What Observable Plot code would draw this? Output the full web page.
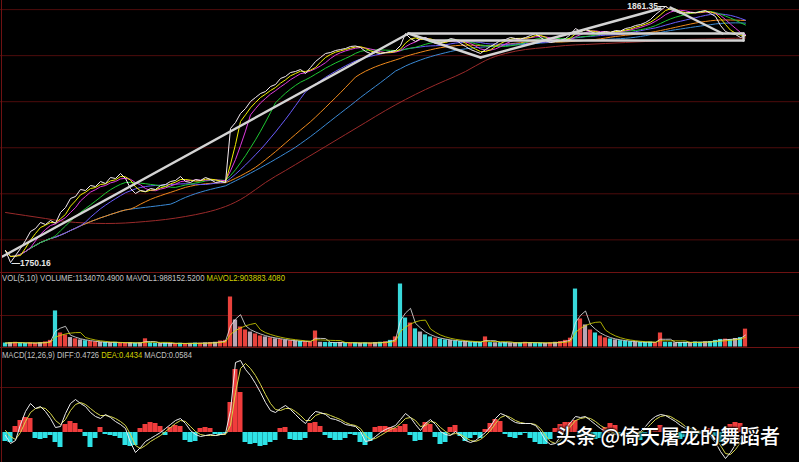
<!DOCTYPE html>
<html><head><meta charset="utf-8">
<script src="https://cdn.jsdelivr.net/npm/d3@7"></script>
<script src="https://cdn.jsdelivr.net/npm/@observablehq/plot@0.6"></script>
<style>
html,body{margin:0;padding:0;background:#000;}
#wrap{position:relative;width:799px;height:462px;background:#000;overflow:hidden;}
#wrap svg{position:absolute;left:0;}
.legend{position:absolute;left:2px;white-space:nowrap;font-family:"Liberation Sans",Arial,sans-serif;font-size:9px;line-height:10px;transform-origin:0 50%;}
.wm{position:absolute;left:556px;top:424px;font-family:"Noto Sans CJK SC",sans-serif;font-size:20px;line-height:24px;color:#fff;font-weight:500;text-shadow:0 0 2px #000,1px 1px 2px #000,-1px -1px 2px #000;white-space:nowrap;}
.bd{position:absolute;background:#6e1212;}
</style></head>
<body><div id="wrap"></div>
<script>
// ---------- DATA ----------
const price = [1755.37,1750.16,1753.20,1756.24,1759.72,1763.62,1764.93,1767.53,1766.66,1768.40,
1767.20,1771.88,1774.05,1777.96,1778.83,1781.87,1781.43,1783.60,1783.17,1785.34,
1784.47,1787.08,1786.64,1788.82,1786.64,1782.30,1780.13,1781.43,1781.00,1782.30,
1781.87,1783.60,1784.04,1785.34,1785.78,1787.51,1785.34,1784.91,1786.21,1785.78,
1787.08,1786.21,1784.91,1785.34,1784.91,1808.36,1810.97,1814.88,1817.05,1820.09,
1821.83,1823.56,1824.43,1826.60,1827.47,1830.08,1830.95,1832.68,1833.12,1833.99,
1832.25,1834.86,1837.46,1839.20,1840.94,1841.37,1842.24,1842.67,1843.11,1843.98,
1844.20,1843.54,1841.81,1840.94,1841.37,1840.94,1841.37,1841.81,1842.24,1844.41,
1849.62,1847.45,1846.15,1847.45,1847.89,1846.58,1845.28,1845.71,1846.15,1847.45,
1847.02,1845.28,1843.98,1842.67,1841.81,1840.94,1842.67,1843.98,1845.28,1846.58,
1847.02,1847.89,1847.45,1847.20,1847.89,1848.76,1849.62,1847.89,1846.58,1845.71,
1846.15,1846.58,1847.45,1849.19,1851.80,1850.49,1851.36,1850.49,1849.62,1850.06,
1850.49,1850.06,1850.93,1850.70,1851.80,1852.23,1853.10,1853.53,1854.40,1855.70,
1857.88,1859.61,1861.35,1860.05,1859.18,1858.31,1858.50,1858.75,1858.60,1859.18,
1859.61,1858.31,1857.01,1853.10,1850.49,1849.62,1849.19,1847.89,1848.76];

const priceGrid = [1760, 1780, 1800, 1820, 1840, 1860];

// long moving average, one value every 4 samples
const longMA = [1771.88,1770.57,1769.27,1767.97,1767.32,1767.10,1767.32,1767.97,1768.84,1770.14,
1771.88,1774.48,1778.83,1784.91,1790.12,1795.33,1800.54,1805.76,1810.97,1816.18,
1820.96,1825.30,1829.21,1833.12,1837.90,1840.94,1842.67,1843.54,1844.41,1844.85,
1845.28,1845.71,1846.15,1846.58,1847.02,1847.23,1847.45,1847.67];
const longMAStep = 4;

// hand-drawn trend lines (sample index, price)
const trendX1 = [-0.6, 80.6, 95, 113.6, 133, 80.6, 84.8, 147.6];
const trendY1 = [1752.77, 1849.62, 1839.20, 1850.06, 1860.92, 1849.62, 1846.58, 1849.62];
const trendX2 = [80.6, 95, 113.6, 131, 143.4, 147.6, 147.6, 147.6];
const trendY2 = [1849.62, 1839.20, 1850.06, 1860.48, 1849.62, 1849.62, 1846.58, 1846.58];

// volume in thousands
const volume = [250,280,300,260,230,270,240,280,320,420,
2290,
890,760,600,520,450,400,360,330,300,
290,270,300,260,250,280,240,260,520,270,
240,220,250,230,210,240,220,230,250,240,
260,280,300,380,420,
3175,
1715,1270,1080,950,830,700,640,580,520,
470,430,400,380,350,330,320,1015,300,290,
280,270,290,260,250,270,240,260,250,280,300,330,420,640,
4000,
1840,1520,1150,950,770,640,560,500,450,410,
380,350,330,310,300,290,640,280,270,260,
280,250,270,260,300,280,260,250,240,270,300,340,420,560,
3680,
1780,1400,1080,890,700,580,510,450,400,370,
340,320,300,290,310,280,890,300,290,270,
280,300,290,320,300,330,350,420,480,500,470,540,600,1134];
const volDir = "cgrccrrgrr" + "c" + "rrgrgcrrg" + "cgcrrgcgrc" + "cgcgrcrgcr" + "grgrr" + "r" +
  "grrgrrgrg" + "rgrgcrrrgc" + "ccgcrcgcrgcrcr" + "c" + "crcgccrccg" + "ccgcccrcgc" +
  "cggcrgccgrgrrr" + "c" + "rgrcrrcgcc" + "cgcccrrccg" + "ccgccgcccrcgcr";
const volGrid = [2000];

const diff = [-0.3,-1.1,-0.8,0.8,2.1,2.9,2.4,2.6,2.1,1.4,
0.5,0.6,1.9,2.9,3.3,2.9,2.6,2.0,1.6,1.4,
1.8,1.5,1.1,0.8,0.4,-1.0,-2.0,-1.5,-0.9,-0.6,
-0.3,0.0,0.4,0.8,1.2,1.4,0.9,0.2,-0.2,-0.4,
-0.3,-0.2,-0.3,-0.2,-0.1,2.2,7.0,7.2,6.3,5.7,
4.9,4.0,3.0,2.2,2.0,2.4,2.7,2.3,1.8,1.3,
0.9,1.6,2.1,2.0,1.8,1.4,1.3,1.1,0.8,0.7,
0.6,0.1,-0.9,-0.8,-0.4,0.0,0.3,0.5,0.7,1.3,
1.9,1.5,0.8,0.2,0.9,1.3,0.8,0.1,-0.2,-0.3,
0.1,-0.3,-0.8,-1.0,-0.8,-0.4,0.0,0.6,1.4,1.9,
1.7,1.3,1.0,0.9,0.9,0.9,0.7,0.1,-0.8,-1.2,
-1.1,-0.4,0.4,1.0,1.6,1.5,1.6,1.2,0.8,0.4,
0.1,-0.1,-0.2,-0.3,-0.3,-0.2,-0.1,0.1,0.6,1.2,
1.6,1.8,1.7,1.4,1.1,0.7,0.4,0.2,0.1,0.0,
-0.1,-0.4,-1.0,-1.9,-2.6,-2.0,-1.2,-0.5,0.2];
const dea = [0.2,-0.4,-0.7,0.0,1.1,2.0,2.4,2.5,2.4,1.9,
1.2,0.8,1.3,2.2,2.8,3.0,2.8,2.4,2.0,1.7,
1.7,1.6,1.4,1.1,0.7,-0.2,-1.3,-1.6,-1.3,-0.9,
-0.6,-0.3,0.1,0.5,0.9,1.2,1.1,0.6,0.1,-0.2,
-0.3,-0.3,-0.3,-0.2,-0.2,0.7,4.0,6.4,6.9,6.4,
5.7,4.8,3.8,2.9,2.3,2.2,2.4,2.4,2.1,1.7,
1.2,1.2,1.7,1.9,1.9,1.7,1.5,1.3,1.0,0.8,
0.7,0.4,-0.3,-0.7,-0.6,-0.3,0.0,0.3,0.5,0.9,
1.4,1.5,1.2,0.6,0.7,1.1,1.0,0.5,0.1,-0.2,
-0.1,-0.2,-0.5,-0.8,-0.9,-0.7,-0.3,0.2,0.9,1.5,
1.7,1.5,1.2,1.0,0.9,0.9,0.8,0.4,-0.3,-0.9,
-1.1,-0.8,-0.1,0.6,1.2,1.4,1.5,1.4,1.1,0.7,
0.4,0.1,-0.1,-0.2,-0.3,-0.3,-0.2,0.0,0.3,0.8,
1.3,1.6,1.7,1.6,1.3,1.0,0.6,0.4,0.2,0.1,
0.0,-0.2,-0.6,-1.3,-2.1,-2.2,-1.7,-1.0,-0.3];
const macdHist = [-0.9,-1.0,0.6,1.2,1.5,1.4,-0.6,-0.7,-0.6,-0.3,
-1.0,-1.5,0.8,1.1,0.9,0.3,-0.4,-1.5,-0.6,0.5,
-0.2,-0.3,-0.4,-0.6,-1.3,-1.4,-1.3,0.4,0.8,1.0,
0.9,0.6,-0.3,0.5,0.7,0.6,-0.8,-1.0,-0.9,0.4,
0.5,0.4,-0.2,-0.3,-0.1,3.0,6.3,4.0,-1.0,-1.2,
-1.1,-1.4,-1.3,-1.0,-0.8,0.4,0.5,-0.7,-0.8,-0.8,
-0.6,0.9,1.0,0.6,-0.3,-0.6,-0.8,-0.8,-0.6,-0.2,
-0.3,-1.0,-1.3,-0.9,0.5,0.6,0.6,0.5,0.4,0.6,
0.8,-0.3,-0.9,-0.8,1.0,0.8,-0.5,-1.2,-1.0,0.5,
0.7,-0.4,-0.9,-0.6,-0.3,-0.6,0.3,0.9,1.3,1.1,
-0.2,-0.5,-0.6,-0.3,-0.1,-0.6,-1.0,-1.2,-1.2,-0.7,
0.4,0.8,1.0,1.0,1.2,-0.4,-0.6,-0.7,-0.7,-0.6,
0.5,0.9,0.7,-0.3,-0.3,-0.2,-0.6,-0.8,-0.5,0.3,
0.4,0.7,0.2,-0.4,-0.6,-0.7,-0.5,-0.4,-0.3,-0.2,
0.3,0.4,-0.4,-1.0,-1.2,0.8,1.0,0.9,0.4];
const macdGrid = [4.5];

const volLegend = [["VOL(5,10) VOLUME:1134070.4900 MAVOL1:988152.5200 ", "#c4c4c4"], ["MAVOL2:903883.4080", "#d2d200"]];
const macdLegend = [["MACD(12,26,9) DIFF:0.4726 ", "#c4c4c4"], ["DEA:0.4434 ", "#d2d200"], ["MACD:0.0584", "#c4c4c4"]];
const watermark = "头条 @倚天屠龙的舞蹈者";

// moving-average lines drawn over the price (window in samples, colour)
const maSpecs = [
  {k: 34, color: "#3a8ad6"},
  {k: 26, color: "#f08a1c"},
  {k: 16, color: "#6a5cff"},
  {k: 10, color: "#1ec832"},
  {k: 5,  color: "#e03ce0"},
  {k: 3,  color: "#f0f000"}
];

// ---------- RENDER ----------
const wrap = document.getElementById("wrap");
const N = price.length;
const xOpt = {domain: [0, N - 1], range: [5, 745], axis: null};
const base = {width: 799, margin: 0, style: {background: "transparent", overflow: "visible"}};
const fmt = d3.format(".2f");

const pData = price.map((v, i) => ({i, v}));
const lmData = longMA.map((v, j) => ({i: j * longMAStep, v}));
const trendData = trendX1.map((x, j) => ({x1: x, y1: trendY1[j], x2: trendX2[j], y2: trendY2[j]}));
const iMin = d3.minIndex(price), iMax = d3.maxIndex(price);

const main = Plot.plot({
  ...base, height: 272,
  x: xOpt,
  y: {domain: d3.extent(price), range: [262, 6], axis: null},
  marks: [
    Plot.ruleY(priceGrid, {stroke: "#4e0c0c", strokeWidth: 1}),
    Plot.line(lmData, {x: "i", y: "v", stroke: "#9a2a2a", strokeWidth: 1, curve: "natural"}),
    ...maSpecs.map(s => Plot.line(pData, Plot.windowY({k: s.k, anchor: "end"}, {x: "i", y: "v", stroke: s.color, strokeWidth: 1}))),
    Plot.line(pData, {x: "i", y: "v", stroke: "#f6ecf2", strokeWidth: 1}),
    Plot.link(trendData, {x1: "x1", y1: "y1", x2: "x2", y2: "y2", stroke: "#d4d4d4", strokeWidth: 2.4, strokeLinecap: "round"}),
    Plot.text([{i: iMin, v: price[iMin]}], {x: "i", y: "v", text: d => "—" + fmt(d.v), textAnchor: "start", dx: 1, dy: 1, fill: "#e6e6e6", fontSize: 8.5, fontWeight: "bold", fontFamily: "Liberation Sans, Arial, sans-serif"}),
    Plot.text([{i: iMax, v: price[iMax]}], {x: "i", y: "v", text: d => fmt(d.v) + "—", textAnchor: "end", dx: 1, dy: 0, fill: "#e6e6e6", fontSize: 8.5, fontWeight: "bold", fontFamily: "Liberation Sans, Arial, sans-serif"})
  ]
});
main.style.top = "0px";
wrap.appendChild(main);

const volColors = {r: "#e8423c", c: "#38d8da", g: "#b8a6b4"};
const vData = volume.map((v, i) => ({i, v, c: volDir[i] || "g"}));
const volPlot = Plot.plot({
  ...base, height: 75,
  x: xOpt,
  y: {domain: [0, 4731], range: [74.5, 0], axis: null},
  marks: [
    Plot.ruleY(volGrid, {stroke: "#4e0c0c", strokeWidth: 1}),
    Plot.rect(vData, {x1: d => d.i - 0.42, x2: d => d.i + 0.42, y1: 0, y2: "v", fill: d => volColors[d.c]}),
    Plot.line(vData, Plot.windowY({k: 3, anchor: "end"}, {x: "i", y: "v", stroke: "#e8e8e8", strokeWidth: 0.8})),
    Plot.line(vData, Plot.windowY({k: 6, anchor: "end"}, {x: "i", y: "v", stroke: "#d8d800", strokeWidth: 0.8}))
  ]
});
volPlot.style.top = "272px";
wrap.appendChild(volPlot);

const hData = macdHist.map((v, i) => ({i, v}));
const dData = diff.map((v, i) => ({i, v}));
const eData = dea.map((v, i) => ({i, v}));
const macdPlot = Plot.plot({
  ...base, height: 115,
  x: xOpt,
  y: {domain: [-3, 8.5], range: [115, 0], axis: null},
  marks: [
    Plot.ruleY(macdGrid, {stroke: "#4e0c0c", strokeWidth: 1}),
    Plot.rect(hData, {x1: d => d.i - 0.5, x2: d => d.i + 0.5, y1: 0, y2: "v", fill: d => d.v >= 0 ? "#f03c3c" : "#2ee2e6"}),
    Plot.line(eData, {x: "i", y: "v", stroke: "#d8d84a", strokeWidth: 1}),
    Plot.line(dData, {x: "i", y: "v", stroke: "#ececec", strokeWidth: 1})
  ]
});
macdPlot.style.top = "347px";
wrap.appendChild(macdPlot);

// panel borders
function border(l, t, w, h) { const d = document.createElement("div"); d.className = "bd"; Object.assign(d.style, {left: l + "px", top: t + "px", width: w + "px", height: h + "px"}); wrap.appendChild(d); }
border(1, 0, 1, 462);
border(0, 272, 799, 1);
border(0, 347, 799, 1);

// legends
function legend(parts, top, targetW) {
  const d = document.createElement("div");
  d.className = "legend";
  d.style.top = top + "px";
  parts.forEach(([t, c]) => { const s = document.createElement("span"); s.textContent = t; s.style.color = c; d.appendChild(s); });
  wrap.appendChild(d);
  const w = d.getBoundingClientRect().width;
  if (w > 0) d.style.transform = `scaleX(${targetW / w})`;
}
legend(volLegend, 273, 283);
legend(macdLegend, 350, 190);

const wm = document.createElement("div");
wm.className = "wm";
wm.textContent = watermark;
wrap.appendChild(wm);
</script>
</body></html>
